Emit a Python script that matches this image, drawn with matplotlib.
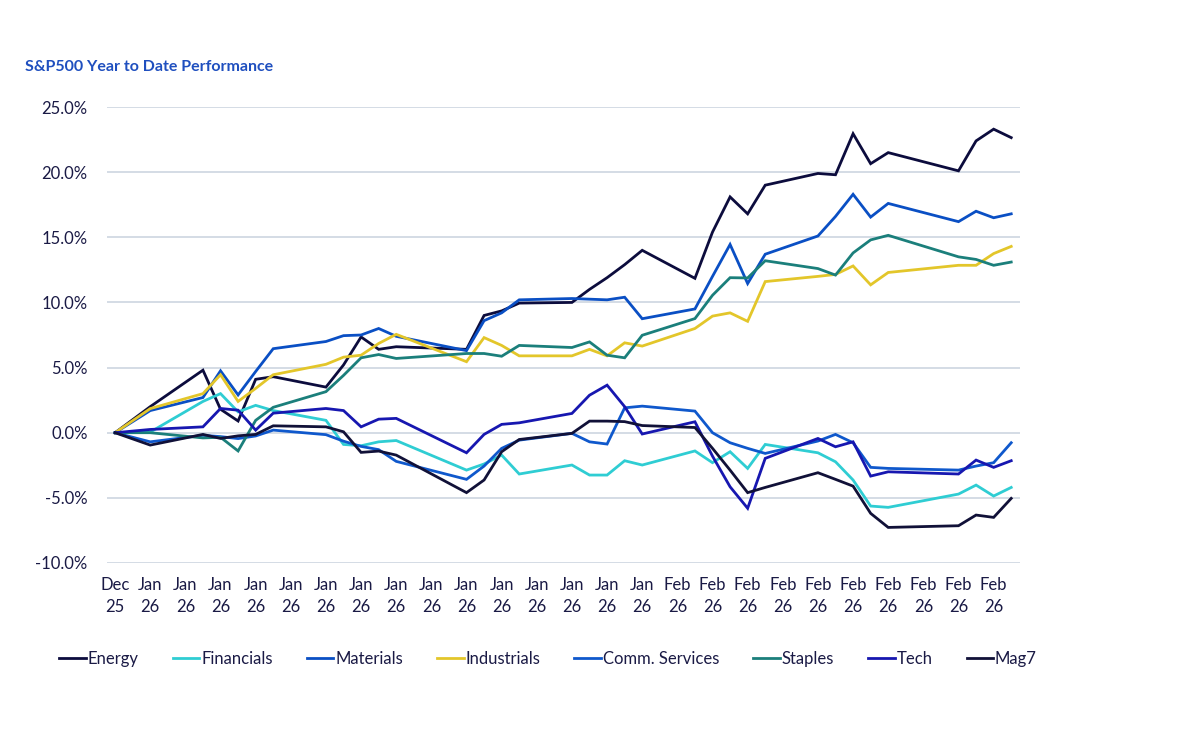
import matplotlib
matplotlib.use('Agg')
import matplotlib.pyplot as plt
import matplotlib.dates as mdates
import pandas as pd

plt.rcParams['font.family'] = ['Lato', 'DejaVu Sans']

# trading days, Dec 31 2025 -> Feb 20 2026
dates = pd.to_datetime([
    '2025-12-31', '2026-01-02', '2026-01-05', '2026-01-06', '2026-01-07',
    '2026-01-08', '2026-01-09', '2026-01-12', '2026-01-13', '2026-01-14',
    '2026-01-15', '2026-01-16', '2026-01-20', '2026-01-21', '2026-01-22',
    '2026-01-23', '2026-01-26', '2026-01-27', '2026-01-28', '2026-01-29',
    '2026-01-30', '2026-02-02', '2026-02-03', '2026-02-04', '2026-02-05',
    '2026-02-06', '2026-02-09', '2026-02-10', '2026-02-11', '2026-02-12',
    '2026-02-13', '2026-02-17', '2026-02-18', '2026-02-19', '2026-02-20'])

energy = [0, 2.0, 4.8, 1.8, 0.9, 4.1, 4.3, 3.5, 5.2, 7.35, 6.4, 6.6, 6.4, 9.0,
          9.35, 9.95, 10.0, 11.0, 11.9, 12.9, 14.0, 11.85, 15.4, 18.1, 16.8,
          19.0, 19.9, 19.8, 22.95, 20.65, 21.5, 20.1, 22.4, 23.3, 22.65]
financials = [0, 0.05, 2.4, 3.0, 1.6, 2.1, 1.7, 0.95, -0.9, -1.0, -0.7, -0.6,
              -2.87, -2.4, -1.72, -3.17, -2.48, -3.25, -3.25, -2.15, -2.48,
              -1.4, -2.3, -1.46, -2.74, -0.9, -1.54, -2.23, -3.63, -5.63,
              -5.73, -4.71, -4.02, -4.86, -4.2]
materials = [0, 1.7, 2.7, 4.75, 2.9, 4.7, 6.45, 7.0, 7.45, 7.5, 8.0, 7.4, 6.3,
             8.6, 9.2, 10.2, 10.3, 10.25, 10.2, 10.4, 8.75, 9.5, 12.0, 14.45,
             11.45, 13.7, 15.1, 16.6, 18.3, 16.55, 17.6, 16.2, 17.0, 16.5, 16.8]
industrials = [0, 1.85, 3.0, 4.45, 2.4, 3.4, 4.45, 5.25, 5.8, 5.95, 6.85, 7.55,
               5.45, 7.3, 6.7, 5.9, 5.9, 6.4, 5.9, 6.9, 6.65, 8.0, 8.95, 9.2,
               8.55, 11.6, 12.0, 12.15, 12.8, 11.35, 12.3, 12.85, 12.85, 13.75,
               14.3]
comm_services = [0, -0.7, -0.2, -0.3, -0.45, -0.25, 0.2, -0.15, -0.65, -1.05,
                 -1.3, -2.2, -3.58, -2.56, -1.2, -0.57, -0.05, -0.7, -0.87,
                 1.91, 2.04, 1.66, 0.0, -0.77, -1.2, -1.59, -0.64, -0.13,
                 -0.77, -2.66, -2.74, -2.87, -2.56, -2.3, -0.77]
staples = [0, 0.0, -0.4, -0.35, -1.4, 0.95, 1.95, 3.15, 4.4, 5.75, 6.0, 5.7,
           6.08, 6.08, 5.87, 6.7, 6.54, 6.97, 5.95, 5.75, 7.48, 8.76, 10.55,
           11.9, 11.88, 13.2, 12.6, 12.1, 13.8, 14.8, 15.15, 13.5, 13.3, 12.85,
           13.1]
tech = [0, 0.25, 0.45, 1.86, 1.73, 0.2, 1.5, 1.86, 1.7, 0.45, 1.04, 1.1,
        -1.54, -0.13, 0.64, 0.76, 1.48, 2.88, 3.65, 2.0, -0.1, 0.84, -1.8,
        -4.15, -5.8, -1.97, -0.44, -1.08, -0.7, -3.33, -3.0, -3.17, -2.1,
        -2.66, -2.15]
mag7 = [0, -0.95, -0.13, -0.44, -0.24, -0.13, 0.53, 0.45, 0.07, -1.51, -1.41,
        -1.72, -4.6, -3.63, -1.46, -0.52, -0.05, 0.89, 0.89, 0.85, 0.55, 0.4,
        -1.2, -2.87, -4.6, -4.2, -3.07, -3.58, -4.1, -6.19, -7.27, -7.14,
        -6.32, -6.5, -5.04]

series = [
    ('Energy', energy, '#0c0c3d'),
    ('Financials', financials, '#2fcdd3'),
    ('Materials', materials, '#0a4fc4'),
    ('Industrials', industrials, '#e3c62a'),
    ('Comm. Services', comm_services, '#0f58cc'),
    ('Staples', staples, '#1b7f7b'),
    ('Tech', tech, '#1717b0'),
    ('Mag7', mag7, '#111138'),
]

text_col = '#1a1a45'

fig = plt.figure(figsize=(12, 7.37), dpi=100)
ax = fig.add_axes([0.0892, 0.2361, 0.7608, 0.6187])

for name, vals, col in series:
    ax.plot(dates, vals, color=col, lw=2.0, label=name, solid_joinstyle='miter')

ax.set_ylim(-10, 25)
ax.set_yticks(range(-10, 26, 5))
ax.yaxis.set_major_formatter(plt.FuncFormatter(lambda v, p: f'{v:.1f}%'))
ax.set_xlim(dates[0] - pd.Timedelta(hours=11), dates[-1] + pd.Timedelta(hours=12))
ax.set_xticks(pd.date_range('2025-12-31', '2026-02-19', freq='2D'))
ax.xaxis.set_major_formatter(mdates.DateFormatter('%b\n%y'))

ax.grid(axis='y', color='#c9d2de', lw=1.1)
ax.set_axisbelow(True)
for s in ax.spines.values():
    s.set_visible(False)
ax.tick_params(axis='both', length=0, labelsize=12, labelcolor=text_col)
ax.tick_params(axis='y', pad=14)
ax.tick_params(axis='x', pad=10)
for lab in ax.get_xticklabels():
    lab.set_linespacing(1.5)

fig.text(25 / 1200, 1 - 67 / 737, 'S&P500 Year to Date Performance',
         color='#1f4fbf', fontsize=11.5, fontweight='bold', va='center')

fig.legend(loc='center', bbox_to_anchor=(548 / 1200, 1 - 659 / 737), ncol=8,
           frameon=False, fontsize=12, handlelength=1.6, handletextpad=0.1,
           columnspacing=2.05, labelcolor=text_col)

fig.savefig('out.png', dpi=100)
